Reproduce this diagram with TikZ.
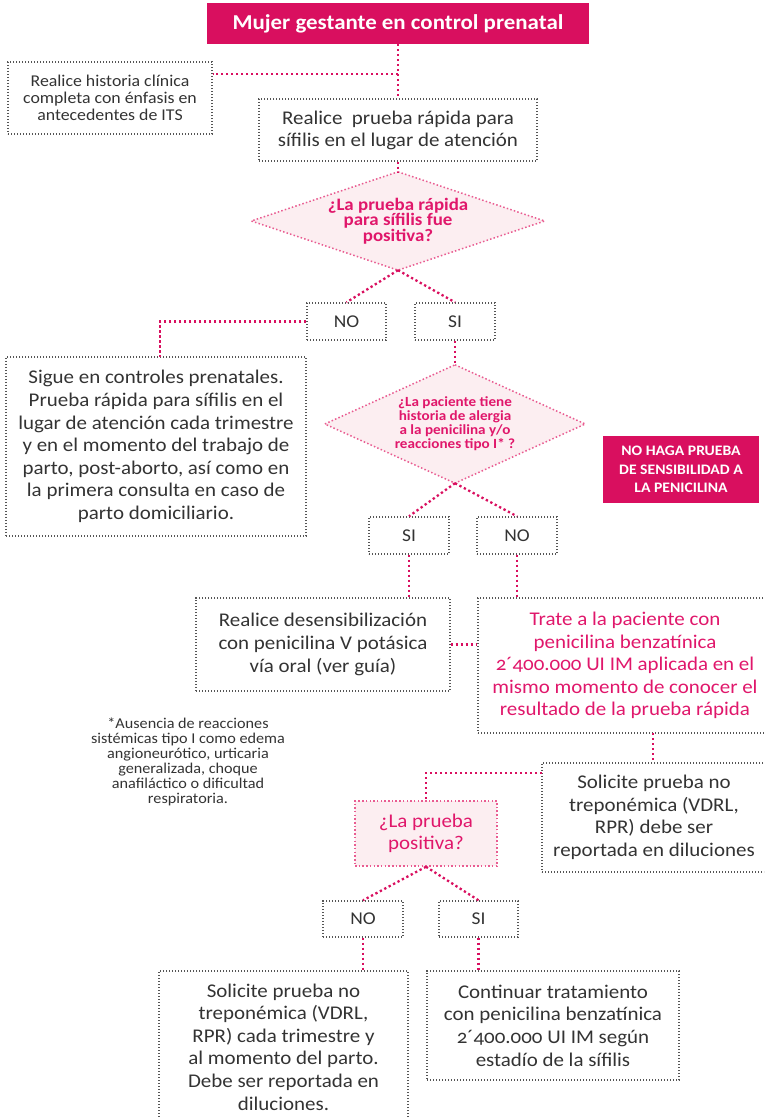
\documentclass[tikz,border=0pt]{standalone}
\usepackage{fontspec}
\setmainfont{Carlito}[FakeStretch=1.08]
\newfontfamily\osf{Carlito}[FakeStretch=1.08,Numbers=OldStyle]
\usetikzlibrary{backgrounds}
\definecolor{mag}{HTML}{D90F5F}
\definecolor{pinktxt}{HTML}{E0176B}
\definecolor{pinkfill}{HTML}{FCEEF1}
\definecolor{pinkdot}{HTML}{E95C91}
\definecolor{txt}{HTML}{333333}
\definecolor{boxdot}{HTML}{555555}
\tikzset{
  sz/.style 2 args={minimum width=#1pt, minimum height=#2pt},
  box/.style={draw=boxdot, line width=1.4pt, dash pattern=on 1.3pt off 1.7pt,
    inner sep=0pt, align=center, text=txt, font=\fontsize{19.4}{22.6}\selectfont},
  ansbox/.style={box, font=\fontsize{18}{20}\selectfont},
  titlebox/.style={fill=mag, text=white, inner sep=0pt, align=center,
    font=\fontsize{21.2}{24}\selectfont\bfseries},
  warnbox/.style={fill=mag, text=white, inner sep=0pt, align=center,
    font=\fontsize{14.5}{18.7}\selectfont\bfseries},
  question/.style={inner sep=0pt, align=center, text=pinktxt},
  diam/.style={draw=pinkdot, fill=pinkfill, line width=1.5pt, dash pattern=on 1.5pt off 2.2pt},
  qbox/.style={draw=pinkdot, fill=pinkfill, line width=1.5pt, dash pattern=on 1.5pt off 2.2pt,
    inner sep=0pt, align=center, text=pinktxt, font=\fontsize{19.4}{22.6}\selectfont},
  conn/.style={draw=mag, line width=2.3pt, dash pattern=on 2.3pt off 2.7pt},
  foot/.style={inner sep=0pt, align=center, text=txt, font=\fontsize{15}{15}\selectfont}
}
\begin{document}
\begin{tikzpicture}[x=1pt, y=-1pt]
\useasboundingbox (0,0) rectangle (764,1118);
\clip (0,0) rectangle (764,1118);

% nodes
\node[titlebox, sz={382}{41}] (t) at (398,23.5) {Mujer gestante en control prenatal};
\node[box, sz={204}{72}, font=\fontsize{16.5}{16.7}\selectfont] (A) at (110,98)
  {Realice historia clínica\\completa con énfasis en\\antecedentes de ITS};
\node[box, sz={278}{62}, font=\fontsize{19.4}{22}\selectfont] (B) at (398,130)
  {Realice\ \ prueba rápida para\\sífilis en el lugar de atención};
\node[question, sz={293}{98}, font=\fontsize{17.5}{15.7}\selectfont\bfseries] (d1) at (398,221)
  {¿La prueba rápida\\para sífilis fue\\positiva?};
\node[ansbox, sz={79}{37}] (NO1) at (346.5,321.5) {NO};
\node[ansbox, sz={80}{37}] (SI1) at (455,321.5) {SI};
\node[box, sz={300}{179}] (C) at (156,446.5)
  {Sigue en controles prenatales.\\Prueba rápida para sífilis en el\\lugar de atención cada trimestre\\y en el momento del trabajo de\\parto, post-aborto, así como en\\la primera consulta en caso de\\parto domiciliario.};
\node[question, sz={260}{118}, font=\fontsize{14}{14}\selectfont\bfseries] (d2) at (455,424)
  {¿La paciente tiene\\historia de alergia\\a la penicilina y/o\\reacciones tipo I* ?};
\node[warnbox, sz={156}{67}] (W) at (681,469.5)
  {NO HAGA PRUEBA\\DE SENSIBILIDAD A\\LA PENICILINA};
\node[ansbox, sz={80}{37}] (SI2) at (409,535.5) {SI};
\node[ansbox, sz={80}{37}] (NO2) at (517,535.5) {NO};
\node[box, sz={254}{93}] (D) at (323,644.5)
  {Realice desensibilización\\con penicilina V potásica\\vía oral (ver guía)};
\node[box, sz={294}{135}, text=pinktxt] (E) at (625,665.5)
  {Trate a la paciente con\\penicilina benzatínica\\{\osf 2´400.000} UI IM aplicada en el\\mismo momento de conocer el\\resultado de la prueba rápida};
\node[foot] (fn) at (188,761.5)
  {*Ausencia de reacciones\\sistémicas tipo I como edema\\angioneurótico, urticaria\\generalizada, choque\\anafiláctico o dificultad\\respiratoria.};
\node[box, sz={224}{109}] (F) at (654,817.5)
  {Solicite prueba no\\treponémica (VDRL,\\RPR) debe ser\\reportada en diluciones};
\node[qbox, sz={142}{65}] (G) at (426,833.5) {¿La prueba\\positiva?};
\node[ansbox, sz={80}{36}] (NO3) at (363,919) {NO};
\node[ansbox, sz={79}{36}] (SI3) at (478.5,919) {SI};
\node[box, sz={249}{152}] (H) at (283.5,1047)
  {Solicite prueba no\\treponémica (VDRL,\\RPR) cada trimestre y\\al momento del parto.\\Debe ser reportada en\\diluciones.};
\node[box, sz={252}{109}] (I) at (553,1025.5)
  {Continuar tratamiento\\con penicilina benzatínica\\{\osf 2´400.000} UI IM según\\estadío de la sífilis};

% diamonds
\begin{scope}[on background layer]
  \path[diam] (d1.north) -- (d1.east) -- (d1.south) -- (d1.west) -- cycle;
  \path[diam] (d2.north) -- (d2.east) -- (d2.south) -- (d2.west) -- cycle;
\end{scope}

% connectors
\coordinate (j1) at (398,74);
\coordinate (cC) at (160,357);
\coordinate (e1) at (653,733);
\coordinate (f1) at (542,773);
\draw[conn] (t.south) -- (B.north);
\draw[conn] (j1) -- (A.east |- j1);
\draw[conn] (B.south) -- (d1.north);
\draw[conn] (d1.south) -- (NO1.north);
\draw[conn] (d1.south) -- (SI1.north);
\draw[conn] (NO1.west) -| (cC);
\draw[conn] (SI1.south) -- (d2.north);
\draw[conn] (d2.south) -- (SI2.north);
\draw[conn] (d2.south) -- (NO2.north);
\draw[conn] (SI2.south) -- (SI2.south |- D.north);
\draw[conn] (NO2.south) -- (NO2.south |- E.north);
\draw[conn] (D.east) -- (D.east -| E.west);
\draw[conn] (e1) -- (e1 |- F.north);
\draw[conn] (f1) -| (G.north);
\draw[conn] (G.south) -- (NO3.north);
\draw[conn] (G.south) -- (SI3.north);
\draw[conn] (NO3.south) -- (NO3.south |- H.north);
\draw[conn] (SI3.south) -- (SI3.south |- I.north);
\end{tikzpicture}
\end{document}
